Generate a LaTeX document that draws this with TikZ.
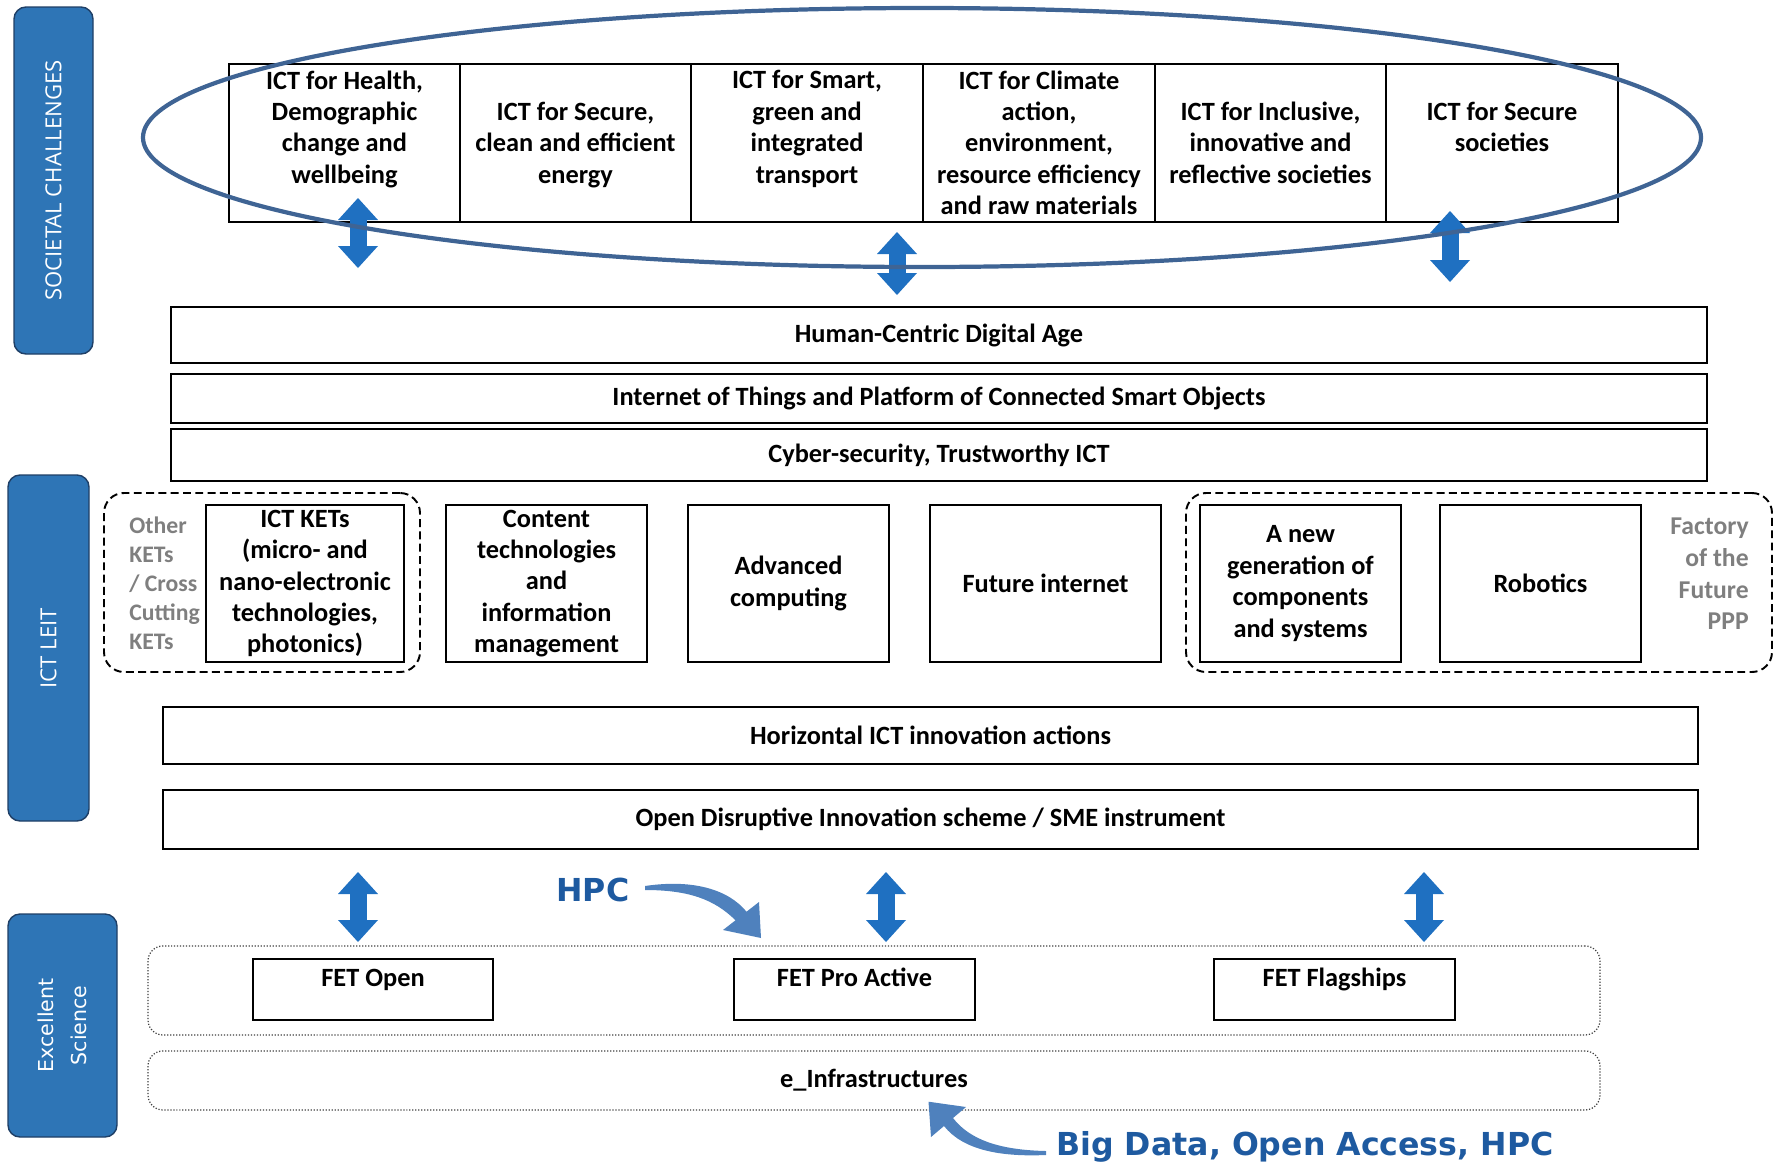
\documentclass[tikz,border=0pt]{standalone}
\usepackage{fontspec}
\setmainfont{Carlito}
\newfontfamily\tagfont{Open Sans}
\newfontfamily\notefont{DejaVu Sans}
\usetikzlibrary{arrows.meta}

\definecolor{tagblue}{HTML}{2E75B6}
\definecolor{tagedge}{HTML}{1F3F66}
\definecolor{ringblue}{HTML}{3F6494}
\definecolor{arrblue}{HTML}{1F70C1}
\definecolor{noteblue}{HTML}{1E5AA0}
\definecolor{bendblue}{HTML}{4F81BD}
\definecolor{sidegrey}{HTML}{7F7F7F}

\tikzset{
  sz/.style 2 args={minimum width=#1*0.02cm, minimum height=#2*0.02cm},
  box/.style={draw, line width=0.9pt, inner sep=0pt, font=\fontsize{15}{17.9}\selectfont\bfseries, align=center},
  celltxt/.style={inner sep=0pt, font=\fontsize{15}{17.9}\selectfont\bfseries, align=center},
  tag/.style={draw=tagedge, line width=0.8pt, fill=tagblue, rounded corners=0.24cm, text=white, inner sep=0pt, font=\tagfont\fontsize{12.6}{15}\selectfont},
  grp/.style={draw, line width=1.1pt, dash pattern=on 4.5pt off 2.5pt, rounded corners=0.4cm, inner sep=0pt},
  dotgrp/.style={draw=black!75, line width=0.7pt, densely dotted, rounded corners=0.3cm, inner sep=0pt, font=\fontsize{15}{17.9}\selectfont\bfseries},
  side/.style={text=sidegrey, inner sep=0pt, font=\fontsize{13.5}{16.5}\selectfont\bfseries},
  dbl/.style={arrblue, line width=0.34cm, {Triangle[width=0.8cm,length=0.44cm,line width=0pt]}-{Triangle[width=0.8cm,length=0.44cm,line width=0pt]}},
  note/.style={text=noteblue, inner sep=0pt, font=\notefont\fontsize{18}{21}\selectfont\bfseries},
}

\begin{document}
\begin{tikzpicture}[x=0.02cm, y=-0.02cm]
\useasboundingbox (0,0) rectangle (1775,1167);

\node[tag, rotate=90, sz={347}{79}] (sc) at (53.5,180.5) {SOCIETAL CHALLENGES};
\node[tag, rotate=90, sz={346}{81}] (leit) at (48.5,648) {ICT LEIT};
\node[tag, rotate=90, sz={223}{109}, align=center, font=\notefont\fontsize{11.7}{18.7}\selectfont] (exsc) at (62.5,1025.5) {Excellent\\Science};

\node[box, sz={231}{158}] (h1) at (344.5,143) {};
\node[box, sz={231}{158}] (h2) at (575.5,143) {};
\node[box, sz={232}{158}] (h3) at (807,143) {};
\node[box, sz={232}{158}] (h4) at (1039,143) {};
\node[box, sz={231}{158}] (h5) at (1270.5,143) {};
\node[box, sz={232}{158}] (h6) at (1502,143) {};
\node[celltxt, anchor=north, yshift=-4pt] (t1) at (h1.north) {ICT for Health,\\Demographic\\change and\\wellbeing};
\node[celltxt, anchor=north, yshift=-21.8pt] (t2) at (h2.north) {ICT for Secure,\\clean and efficient\\energy};
\node[celltxt, anchor=north, yshift=-4pt] (t3) at (h3.north) {ICT for Smart,\\green and\\integrated\\transport};
\node[celltxt, anchor=north, yshift=-4pt] (t4) at (h4.north) {ICT for Climate\\action,\\environment,\\resource efficiency\\and raw materials};
\node[celltxt, anchor=north, yshift=-21.8pt] (t5) at (h5.north) {ICT for Inclusive,\\innovative and\\reflective societies};
\node[celltxt, anchor=north, yshift=-21.8pt] (t6) at (h6.north) {ICT for Secure\\societies};

\node[box, sz={1536}{56}] (hcda) at (939,335) {Human-Centric Digital Age};
\node[box, sz={1536}{49}] (iot) at (939,398.5) {Internet of Things and Platform of Connected Smart Objects};
\node[box, sz={1536}{52}] (cyber) at (939,455) {Cyber-security, Trustworthy ICT};

\node[grp, sz={316}{179}] (ketgrp) at (262,582.5) {};
\node[grp, sz={586}{179}] (fofgrp) at (1479,582.5) {};
\node[side, anchor=west, align=left] (othk) at (129,583) {Other\\KETs\\/ Cross\\Cutting\\KETs};
\node[side, anchor=east, align=right, font=\fontsize{14.6}{18}\selectfont\bfseries] (fof) at (1749,574) {Factory\\of the\\Future\\PPP};
\node[box, sz={198}{157}] (kets) at (305,583.5) {ICT KETs\\(micro- and\\nano-electronic\\technologies,\\photonics)};
\node[box, sz={201}{157}] (cont) at (546.5,583.5) {Content\\technologies\\and\\information\\management};
\node[box, sz={201}{157}] (advc) at (788.5,583.5) {Advanced\\computing};
\node[box, sz={231}{157}] (fint) at (1045.5,583.5) {Future internet};
\node[box, sz={201}{157}] (ngen) at (1300.5,583.5) {A new\\generation of\\components\\and systems};
\node[box, sz={201}{157}] (robo) at (1540.5,583.5) {Robotics};

\node[box, sz={1535}{57}] (hict) at (930.5,735.5) {Horizontal ICT innovation actions};
\node[box, sz={1535}{59}] (odis) at (930.5,819.5) {Open Disruptive Innovation scheme / SME instrument};

\node[dotgrp, sz={1452}{89}] (fetgrp) at (874,990.5) {};
\node[dotgrp, sz={1452}{59}] (einf) at (874,1080.5) {e\_Infrastructures};
\node[box, sz={240}{61}, text height=15.4pt, text depth=19.3pt] (fopen) at (373,989.5) {FET Open};
\node[box, sz={241}{61}, text height=15.4pt, text depth=19.3pt] (fpro) at (854.5,989.5) {FET Pro Active};
\node[box, sz={241}{61}, text height=15.4pt, text depth=19.3pt] (fflag) at (1334.5,989.5) {FET Flagships};

\coordinate (a1t) at (358,198); \coordinate (a1b) at (358,268);
\coordinate (a2t) at (897,232); \coordinate (a2b) at (897,295);
\coordinate (a3t) at (1450,211); \coordinate (a3b) at (1450,282);
\draw[dbl] (a1t) -- (a1b);
\draw[dbl] (a2t) -- (a2b);
\draw[dbl] (a3t) -- (a3b);
\coordinate (b1t) at (358,872); \coordinate (b1b) at (358,942);
\coordinate (b2t) at (886,872); \coordinate (b2b) at (886,942);
\coordinate (b3t) at (1424,872); \coordinate (b3b) at (1424,942);
\draw[dbl] (b1t) -- (b1b);
\draw[dbl] (b2t) -- (b2b);
\draw[dbl] (b3t) -- (b3b);

\draw[ringblue, line width=2.4pt] (922,137.5) ellipse [x radius=779, y radius=129.5];

\node[note, anchor=base west] (hpc) at (556,901) {HPC};
\node[note, anchor=base west] (bigd) at (1056,1155) {Big Data, Open Access, HPC};
\fill[bendblue] (645,886) .. controls (692,879) and (728,889) .. (746.5,911.7) -- (759,902) -- (761,938) -- (723,930) -- (735.5,920.3) .. controls (714,899) and (688,890) .. (645,890) -- cycle;
\fill[bendblue] (1046,1151) .. controls (1000,1150) and (970,1140) .. (953,1118) -- (966,1107) -- (928.5,1101.7) -- (931,1137) -- (944,1126) .. controls (963,1150) and (1000,1157) .. (1046,1155) -- cycle;

\end{tikzpicture}
\end{document}
